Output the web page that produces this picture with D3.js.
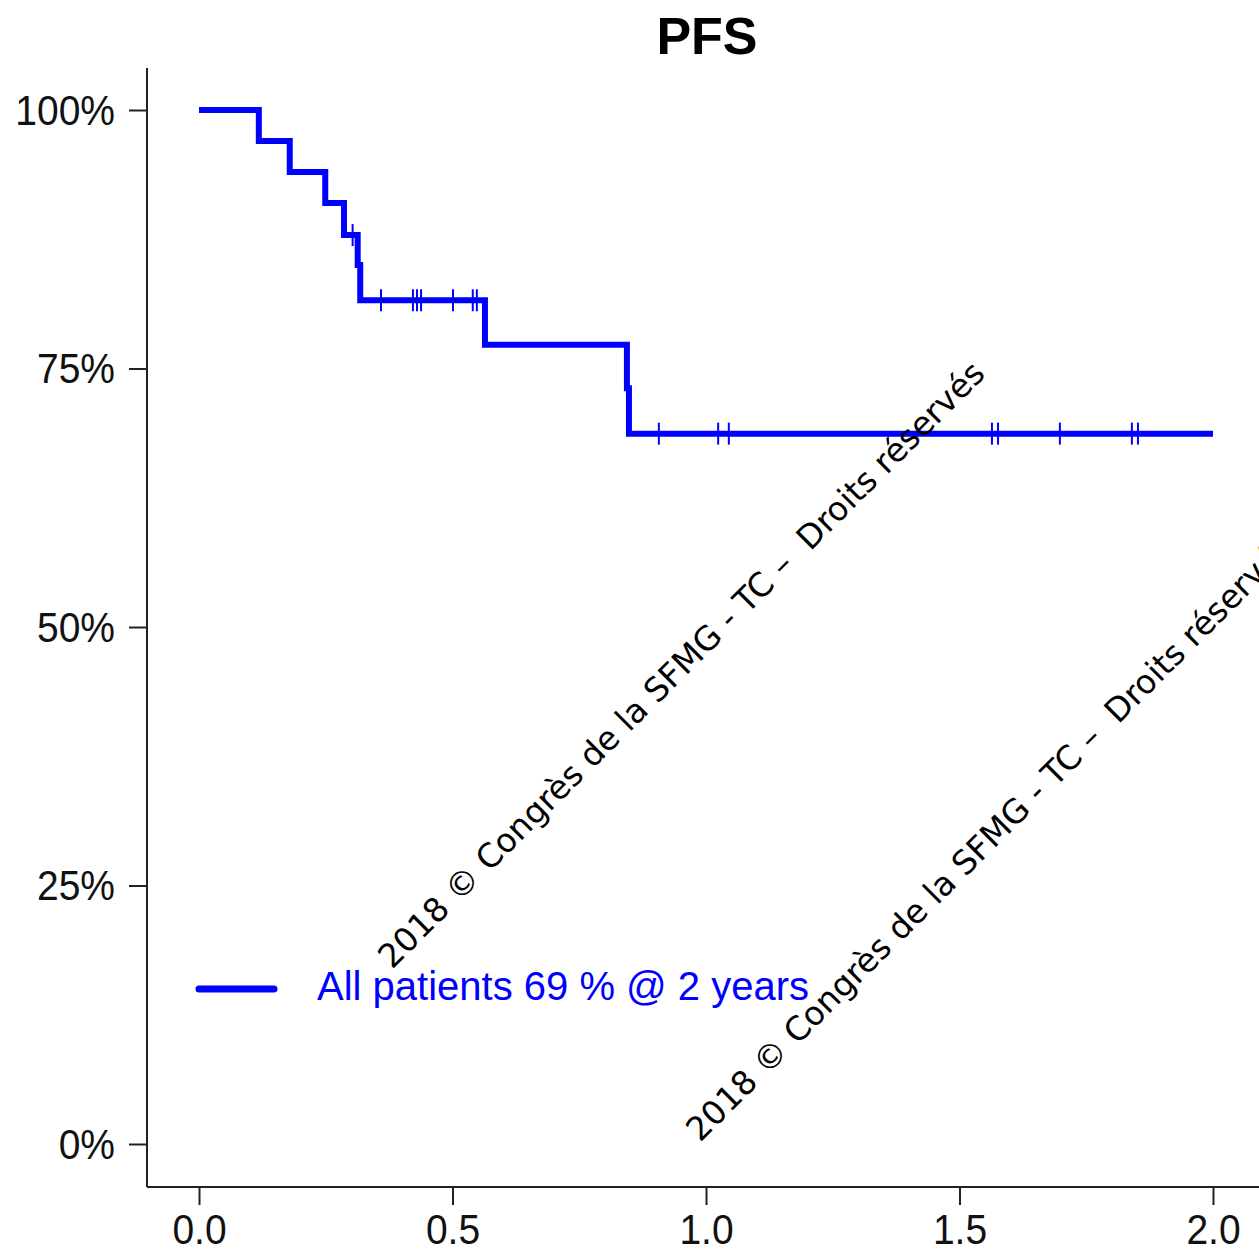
<!DOCTYPE html>
<html>
<head>
<meta charset="utf-8">
<script src="https://cdn.jsdelivr.net/npm/d3@7"></script>
<style>
  body { margin: 0; background: #fff; }
  svg { display: block; }
</style>
</head>
<body>
<div id="chart"></div>
<script>
// KM step points (time in years, survival)
var stepTimes = [0, 0.118, 0.179, 0.249, 0.286, 0.313, 0.318, 0.564, 0.844, 0.848, 2.0];
var stepSurv  = [1.0, 0.970, 0.940, 0.910, 0.879, 0.850, 0.816, 0.773, 0.731, 0.687, 0.687];
// censored times
var censorTimes = [0.303, 0.359, 0.422, 0.430, 0.438, 0.501, 0.540, 0.548,
                   0.907, 1.024, 1.045, 1.564, 1.576, 1.698, 1.840, 1.852];
var xTicks = [0, 0.5, 1.0, 1.5, 2.0];
var yTicks = [0, 0.25, 0.5, 0.75, 1.0];
var titleText = "PFS";
var legendText = "All patients 69 % @ 2 years";
var watermark = "2018 \u00a9 Congr\u00e8s de la SFMG - TC \u2013  Droits r\u00e9serv\u00e9s";

var W = 1259, H = 1250;
var blue = "#0000ff";
var axisFont = "'Liberation Sans', Arial, sans-serif";
var stretch = 1.08;

var svg = d3.select("#chart").append("svg")
  .attr("width", W).attr("height", H);

var x = d3.scaleLinear().domain([0, 2]).range([199, 1213]);
var y = d3.scaleLinear().domain([0, 1]).range([1144, 110]);

// frame lines (bty = "l")
var frameLeft = 147, frameTop = 68, frameBottom = 1187;
svg.append("line")
  .attr("x1", frameLeft).attr("x2", frameLeft)
  .attr("y1", frameTop).attr("y2", frameBottom)
  .attr("stroke", "#222").attr("stroke-width", 2);
svg.append("line")
  .attr("x1", frameLeft).attr("x2", W)
  .attr("y1", frameBottom).attr("y2", frameBottom)
  .attr("stroke", "#222").attr("stroke-width", 2);

// y axis
var yAxis = svg.append("g")
  .attr("transform", "translate(" + frameLeft + ",0)")
  .call(d3.axisLeft(y).tickValues(yTicks).tickSize(18).tickPadding(14)
    .tickFormat(function(d) { return Math.round(d * 100) + "%"; }));
yAxis.select(".domain").remove();
yAxis.selectAll("line").attr("stroke", "#222").attr("stroke-width", 2);
yAxis.selectAll("text")
  .attr("font-family", axisFont).attr("font-size", 39).attr("fill", "#111")
  .attr("dy", null).attr("y", 14 / stretch)
  .attr("transform", "scale(1," + stretch + ")");

// x axis
var xAxis = svg.append("g")
  .attr("transform", "translate(0," + frameBottom + ")")
  .call(d3.axisBottom(x).tickValues(xTicks).tickSize(18).tickPadding(12)
    .tickFormat(d3.format(".1f")));
xAxis.select(".domain").remove();
xAxis.selectAll("line").attr("stroke", "#222").attr("stroke-width", 2);
xAxis.selectAll("text")
  .attr("font-family", axisFont).attr("font-size", 39).attr("fill", "#111")
  .attr("dy", null).attr("y", 57 / stretch)
  .attr("transform", "scale(1," + stretch + ")");

// title
svg.append("text")
  .attr("x", 707).attr("y", 54)
  .attr("text-anchor", "middle")
  .attr("font-family", axisFont).attr("font-weight", "bold")
  .attr("font-size", 52)
  .text(titleText);

// KM curve
var stepData = stepTimes.map(function(t, i) { return { t: t, s: stepSurv[i] }; });
var line = d3.line()
  .x(function(d) { return x(d.t); })
  .y(function(d) { return y(d.s); })
  .curve(d3.curveStepAfter);
svg.append("path")
  .datum(stepData)
  .attr("d", line)
  .attr("fill", "none")
  .attr("stroke", blue)
  .attr("stroke-width", 6);

function survAt(t) {
  var s = 1;
  for (var i = 0; i < stepTimes.length; i++) {
    if (stepTimes[i] <= t) s = stepSurv[i];
  }
  return s;
}

svg.selectAll(".censor")
  .data(censorTimes)
  .enter().append("line")
  .attr("class", "censor")
  .attr("x1", function(d) { return x(d); })
  .attr("x2", function(d) { return x(d); })
  .attr("y1", function(d) { return y(survAt(d)) - 11; })
  .attr("y2", function(d) { return y(survAt(d)) + 11; })
  .attr("stroke", blue)
  .attr("stroke-width", 2);

// legend
svg.append("line")
  .attr("x1", 199).attr("x2", 274)
  .attr("y1", 989).attr("y2", 989)
  .attr("stroke", blue).attr("stroke-width", 7)
  .attr("stroke-linecap", "round");
svg.append("text")
  .attr("x", 317).attr("y", 1000)
  .attr("font-family", axisFont).attr("font-size", 40)
  .attr("fill", blue)
  .text(legendText);

// watermarks
[[392, 970], [700, 1143]].forEach(function(p) {
  svg.append("text")
    .attr("transform", "translate(" + p[0] + "," + p[1] + ") rotate(-45)")
    .attr("font-family", "'DejaVu Sans', sans-serif")
    .attr("font-size", 33)
    .attr("fill", "#000")
    .style("white-space", "pre")
    .text(watermark);
});
</script>
</body>
</html>
